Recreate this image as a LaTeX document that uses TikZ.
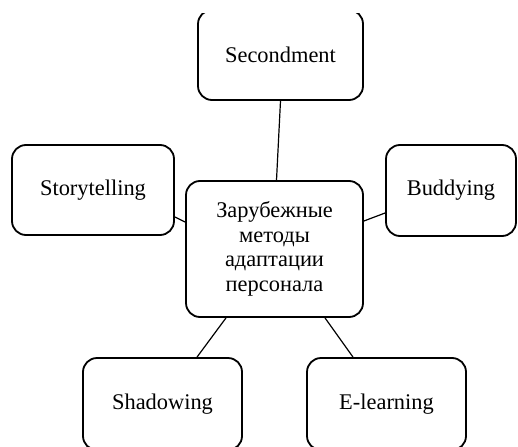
\documentclass[tikz,border=0pt]{standalone}
\usepackage{fontspec}
\setmainfont{Liberation Serif}
\usepackage{tikz}

\begin{document}
\begin{tikzpicture}[x=1pt, y=-1pt,
    every node/.style={font=\fontsize{22.4}{24.5}\selectfont},
    box/.style={draw, rounded corners=14pt, line width=1.8pt, align=center, inner sep=0pt}]
  \useasboundingbox (0, 0) rectangle (518, 446);
  \clip (0, 14) rectangle (518, 446);
  \node [box, minimum width=165pt, minimum height=90pt] (sec) at (280.5, 55) {Secondment};
  \node [box, minimum width=162pt, minimum height=90pt] (story) at (93, 190) {Storytelling};
  \node [box, minimum width=130pt, minimum height=91pt] (bud) at (451, 190.5) {Buddying};
  \node [box, minimum width=177pt, minimum height=136pt] (c) at (274.5, 249)
    {Зарубежные\\методы\\адаптации\\персонала};
  \node [box, minimum width=159pt, minimum height=92pt] (shad) at (162.5, 404) {Shadowing};
  \node [box, minimum width=159pt, minimum height=92pt] (elearn) at (386.5, 404) {E-learning};
  \draw [line width=1.2pt] (sec.south) -- ([xshift=2pt]c.north);
  \draw [line width=1.2pt] ([yshift=-27pt]story.east) -- ([yshift=27pt]c.west);
  \draw [line width=1.2pt] ([yshift=28pt]c.east) -- ([yshift=-22.5pt]bud.west);
  \draw [line width=1.2pt] ([xshift=-48.5pt]c.south) -- ([xshift=34.5pt]shad.north);
  \draw [line width=1.2pt] ([xshift=50.5pt]c.south) -- ([xshift=-33.5pt]elearn.north);
\end{tikzpicture}
\end{document}
